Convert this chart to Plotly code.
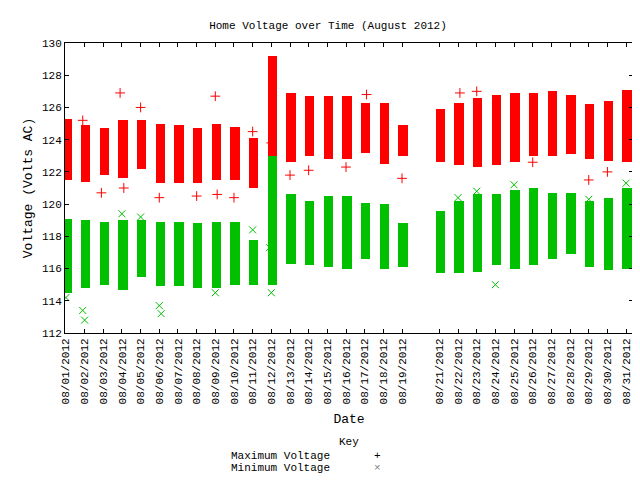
import plotly.graph_objects as go

days = list(range(1, 20)) + list(range(21, 32))
max_hi = [125.3, 124.9, 124.7, 125.2, 125.2, 125.0, 124.9, 124.7, 125.0, 124.8, 124.1, 129.2,
          126.9, 126.7, 126.7, 126.7, 126.3, 126.3, 124.9,
          125.9, 126.3, 126.6, 126.8, 126.9, 126.9, 127.0, 126.8, 126.2, 126.4, 127.1]
max_lo = [121.5, 121.4, 121.8, 121.6, 122.2, 121.3, 121.3, 121.3, 121.5, 121.5, 121.0, 123.0,
          122.6, 123.0, 122.8, 122.8, 123.2, 122.5, 123.0,
          122.6, 122.4, 122.3, 122.4, 122.6, 123.0, 123.0, 123.1, 122.8, 122.7, 122.6]
min_hi = [119.1, 119.0, 118.9, 119.0, 119.0, 118.9, 118.9, 118.8, 118.9, 118.9, 117.8, 123.0,
          120.6, 120.2, 120.5, 120.5, 120.1, 120.0, 118.8,
          119.6, 120.2, 120.6, 120.6, 120.9, 121.0, 120.7, 120.7, 120.2, 120.4, 121.0]
min_lo = [114.5, 114.8, 115.0, 114.7, 115.5, 114.9, 114.9, 114.8, 114.8, 115.0, 115.0, 115.0,
          116.3, 116.2, 116.1, 116.0, 116.6, 116.0, 116.1,
          115.7, 115.7, 115.8, 116.2, 116.0, 116.2, 116.6, 116.9, 116.1, 115.9, 116.0]

# stray readings outside the dense bands
max_out_day = [1.9, 2.9, 3.9, 4.1, 5.0, 6.0, 8.0, 9.0, 9.1, 10.0, 11.0, 12.0, 13.0, 14.0, 16.0, 17.1, 19.0, 22.1, 23.0, 26.0, 29.0, 30.0]
max_out_val = [125.2, 120.7, 126.9, 121.0, 126.0, 120.4, 120.5, 126.7, 120.6, 120.4, 124.5, 123.8, 121.8, 122.1, 122.3, 126.8, 121.6, 126.9, 127.0, 122.6, 121.5, 122.0]
min_out_day = [1.0, 1.9, 2.0, 4.0, 5.0, 6.0, 6.1, 9.0, 11.0, 11.9, 12.0, 22.0, 23.0, 24.0, 25.0, 29.0, 31.0]
min_out_val = [114.2, 113.4, 112.8, 119.4, 119.2, 113.7, 113.2, 114.5, 118.4, 117.3, 114.5, 120.4, 120.8, 115.0, 121.2, 120.3, 121.3]

tick_days = days
tick_text = ["08/%02d/2012" % d for d in tick_days]

RED = "#ff0000"
GREEN = "#00c000"
FONT = "Liberation Mono"

fig = go.Figure()
xs = [d - 1 + 0.05 for d in days]
fig.add_trace(go.Bar(x=xs, y=[h - l for h, l in zip(max_hi, max_lo)], base=max_lo,
                     width=0.5, marker=dict(color=RED, line=dict(width=0)), showlegend=False))
fig.add_trace(go.Bar(x=xs, y=[h - l for h, l in zip(min_hi, min_lo)], base=min_lo,
                     width=0.5, marker=dict(color=GREEN, line=dict(width=0)), showlegend=False))
fig.add_trace(go.Scatter(x=[d - 1 for d in max_out_day], y=max_out_val, mode="markers",
                         marker=dict(symbol="cross-thin", size=7, line=dict(color=RED, width=1)),
                         showlegend=False))
fig.add_trace(go.Scatter(x=[d - 1 for d in min_out_day], y=min_out_val, mode="markers",
                         marker=dict(symbol="x-thin", size=7, line=dict(color=GREEN, width=1)),
                         showlegend=False))

fig.update_layout(
    width=640, height=480, barmode="overlay", bargap=0,
    plot_bgcolor="white", paper_bgcolor="white",
    margin=dict(l=57, r=15, t=35, b=155, autoexpand=False),
    font=dict(family=FONT, size=11, color="black"),
    title=dict(text="Home Voltage over Time (August 2012)", x=0.5, xanchor="center",
               y=0.965, yanchor="middle", font=dict(family=FONT, size=11)),
    xaxis=dict(range=[-0.05, 30.37], tickvals=[d - 1 for d in tick_days], ticktext=tick_text,
               tickangle=-90, showgrid=False, zeroline=False, showline=True, linecolor="black",
               mirror="ticks", ticks="inside", ticklen=4, tickcolor="black", automargin=False,
               title=dict(text="Date", standoff=10)),
    yaxis=dict(range=[112, 130], dtick=2, showgrid=False, zeroline=False, showline=True,
               linecolor="black", mirror="ticks", ticks="inside", ticklen=4, tickcolor="black",
               automargin=False, title=dict(text="Voltage (Volts AC)", standoff=6)),
)

fig.add_annotation(text="Key", x=0.5, y=-0.405, xref="paper", yref="paper", showarrow=False)
fig.add_annotation(text="Maximum Voltage", x=0.47, y=-0.45, xref="paper", yref="paper",
                   showarrow=False, xanchor="right")
fig.add_annotation(text="Minimum Voltage", x=0.47, y=-0.492, xref="paper", yref="paper",
                   showarrow=False, xanchor="right")
fig.add_annotation(text="+", x=0.55, y=-0.45, xref="paper", yref="paper", showarrow=False,
                   font=dict(color="black"))
fig.add_annotation(text="×", x=0.55, y=-0.492, xref="paper", yref="paper", showarrow=False,
                   font=dict(color="#808080"))

fig.write_html("out.html")
